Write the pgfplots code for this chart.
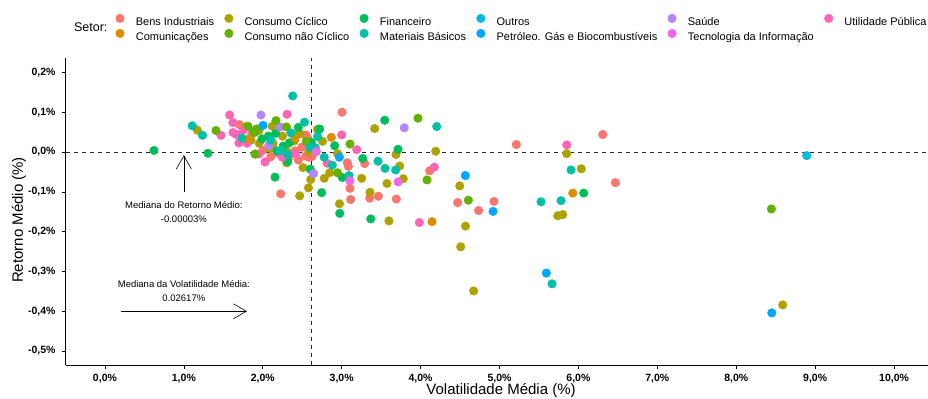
\documentclass[border=0pt]{standalone}
\usepackage{pgfplots}
\pgfplotsset{compat=1.18}
\usepackage{fontspec}
\setmainfont{Liberation Sans}
\usetikzlibrary{arrows.meta}
\definecolor{cBens}{HTML}{F8766D}
\definecolor{cCom}{HTML}{DB8E00}
\definecolor{cCC}{HTML}{AEA200}
\definecolor{cCNC}{HTML}{64B200}
\definecolor{cFin}{HTML}{00BD5C}
\definecolor{cMat}{HTML}{00C1A7}
\definecolor{cOut}{HTML}{00BADE}
\definecolor{cPet}{HTML}{00A6FF}
\definecolor{cSau}{HTML}{B385FF}
\definecolor{cTec}{HTML}{EF67EB}
\definecolor{cUti}{HTML}{FF63B6}
\begin{document}
\begin{tikzpicture}
\begin{axis}[
  name=ax,
  scale only axis,
  width=862.4pt, height=306.5pt,
  xmin=-0.5, xmax=10.43,
  ymin=-0.535, ymax=0.235,
  clip=false,
  axis x line*=bottom, axis y line*=left,
  axis line style={black, line width=0.6pt},
  tick align=outside,
  major tick length=3.5pt,
  tick style={black, line width=0.6pt},
  xtick={0,1,2,3,4,5,6,7,8,9,10},
  xticklabels={{0,0\%},{1,0\%},{2,0\%},{3,0\%},{4,0\%},{5,0\%},{6,0\%},{7,0\%},{8,0\%},{9,0\%},{10,0\%}},
  ytick={-0.5,-0.4,-0.3,-0.2,-0.1,0,0.1,0.2},
  yticklabels={{-0,5\%},{-0,4\%},{-0,3\%},{-0,2\%},{-0,1\%},{0,0\%},{0,1\%},{0,2\%}},
  ticklabel style={font=\bfseries\fontsize{10.5}{12}\selectfont, text=black},
  xticklabel style={yshift=-2pt},
  yticklabel style={xshift=-3pt},
  xlabel={Volatilidade Média (\%)},
  ylabel={Retorno Médio (\%)},
  xlabel style={at={(rel axis cs:0.505,0)}, anchor=center, yshift=-25pt, font=\fontsize{15}{18}\selectfont},
  ylabel style={at={([xshift=-46.5pt]rel axis cs:0,0.473)}, anchor=center, font=\fontsize{15}{18}\selectfont},
  every axis plot/.append style={only marks, mark=*, mark size=4.3pt},
  legend columns=6,
  legend cell align=left,
  legend image code/.code={\draw[#1] plot[only marks] coordinates {(4.5pt,3.9pt)};},
  legend style={draw=none, fill=none, at={(rel axis cs:0,1)}, anchor=north west,
    xshift=50pt, yshift=44.6pt, inner sep=0pt,
    font=\fontsize{11}{13}\selectfont,
    /tikz/every odd column/.style={column sep=9.5pt},
    /tikz/every even column/.style={column sep=8.5pt},
    row sep=0pt},
]
% row 1 of legend
\addplot[color=cBens] coordinates {(1.702,0.069) (1.859,0.046) (3.004,0.100) (2.446,0.045) (2.544,0.043) (2.493,0.012) (2.408,0.003) (2.544,-0.010) (2.586,-0.013) (2.624,-0.011) (2.260,-0.010) (2.336,-0.011) (3.071,-0.027) (3.084,-0.036) (3.291,-0.029) (3.105,-0.091) (3.114,-0.119) (2.227,-0.105) (3.355,-0.116) (3.464,-0.111) (3.692,-0.118) (4.115,-0.047) (4.470,-0.127) (4.734,-0.147) (4.930,-0.124) (5.213,0.019) (6.308,0.044) (6.468,-0.077) (2.002,0.004) (2.564,0.037) (2.100,-0.012) (2.180,-0.002) (2.450,-0.020)};
\addlegendentry{Bens Industriais}
\addplot[color=cCC] coordinates {(1.170,0.055) (2.120,0.065) (1.955,0.022) (2.129,0.021) (1.910,-0.005) (2.303,0.002) (2.303,-0.027) (2.471,0.046) (2.691,0.057) (2.757,0.027) (2.947,-0.004) (3.418,0.059) (2.586,0.001) (2.510,-0.039) (2.607,-0.069) (2.579,-0.090) (2.468,-0.110) (2.779,-0.066) (2.848,-0.052) (2.972,-0.130) (3.253,-0.066) (3.359,-0.101) (3.574,-0.079) (3.599,-0.173) (3.688,-0.006) (3.735,-0.035) (3.781,-0.067) (4.191,0.002) (4.496,-0.085) (4.569,-0.186) (4.508,-0.238) (4.673,-0.349) (5.852,-0.004) (6.037,-0.042) (5.738,-0.160) (5.801,-0.157) (8.589,-0.384) (2.091,0.009) (1.774,0.063) (1.952,0.054) (2.250,0.040) (2.400,0.028) (1.850,0.030)};
\addlegendentry{Consumo Cíclico}
\addplot[color=cFin] coordinates {(0.621,0.004) (1.305,-0.003) (1.762,0.032) (1.888,0.053) (2.070,0.040) (2.336,0.023) (2.180,0.003) (2.316,-0.024) (2.155,-0.063) (2.615,0.024) (2.721,0.058) (2.911,0.016) (2.602,-0.043) (2.746,-0.102) (3.008,-0.064) (2.975,-0.154) (3.266,-0.016) (3.545,0.080) (3.714,0.007) (3.368,-0.168) (6.067,-0.103) (2.163,0.047) (1.990,0.033) (2.450,0.062) (2.260,0.015)};
\addlegendentry{Financeiro}
\addplot[color=cOut] coordinates {(8.893,-0.009)};
\addlegendentry{Outros}
\addplot[color=cSau] coordinates {(1.977,0.093) (2.218,0.063) (2.075,0.016) (2.645,-0.054) (3.793,0.061)};
\addlegendentry{Saúde}
\addplot[color=cUti] coordinates {(1.470,0.042) (1.580,0.093) (1.622,0.074) (1.622,0.049) (1.664,0.044) (1.698,0.023) (1.800,0.022) (2.307,0.095) (1.952,-0.005) (2.028,-0.025) (2.247,-0.013) (2.814,-0.028) (3.000,0.043) (3.190,0.006) (4.174,-0.038) (3.984,-0.177) (5.852,0.018) (1.750,0.055) (2.420,-0.005)};
\addlegendentry{Utilidade Pública}
% row 2 of legend
\addplot[color=cCom] coordinates {(1.819,0.032) (2.868,0.037) (4.144,-0.175) (5.928,-0.103) (2.408,0.035)};
\addlegendentry{Comunicações}
\addplot[color=cCNC] coordinates {(1.407,0.054) (1.812,0.065) (2.167,0.079) (1.923,0.058) (3.105,0.020) (2.947,-0.052) (3.967,0.085) (4.081,-0.070) (4.605,-0.121) (8.445,-0.143) (1.901,-0.005) (1.897,0.049) (2.300,0.063) (2.550,0.027)};
\addlegendentry{Consumo não Cíclico}
\addplot[color=cMat] coordinates {(1.106,0.066) (1.236,0.042) (2.379,0.141) (2.529,0.075) (2.357,0.048) (2.694,0.039) (2.665,0.011) (2.316,-0.006) (2.778,-0.013) (2.881,-0.033) (3.093,-0.059) (3.460,-0.023) (3.549,-0.041) (3.684,-0.045) (4.204,0.064) (5.906,-0.045) (5.526,-0.125) (5.779,-0.122) (5.665,-0.331) (1.736,0.035) (2.218,0.003) (2.100,0.030) (2.600,0.012)};
\addlegendentry{Materiais Básicos}
\addplot[color=cPet] coordinates {(2.003,0.067) (2.970,-0.013) (4.566,-0.059) (4.918,-0.149) (5.593,-0.304) (8.450,-0.404)};
\addlegendentry{Petróleo. Gás e Biocombustíveis}
\addplot[color=cTec] coordinates {(3.103,-0.072) (3.714,-0.075) (2.678,0.001)};
\addlegendentry{Tecnologia da Informação}
% reference lines
\addplot[forget plot, no marks, sharp plot, black!85, line width=0.7pt, dash pattern=on 4pt off 4pt] coordinates {(-0.5,-0.00003) (10.43,-0.00003)};
\addplot[forget plot, no marks, sharp plot, black!85, line width=0.7pt, dash pattern=on 4pt off 4pt] coordinates {(2.617,-0.535) (2.617,0.235)};
% arrows
\addplot[forget plot, no marks, sharp plot, black, line width=0.6pt, -{Straight Barb[length=13pt,width=15pt]}] coordinates {(1.0,-0.1) (1.0,-0.008)};
\addplot[forget plot, no marks, sharp plot, black, line width=0.6pt, -{Straight Barb[length=13pt,width=15pt]}] coordinates {(0.2,-0.4) (1.8,-0.4)};
\node[align=center, font=\fontsize{9.5}{14}\selectfont] at (axis cs:1.0,-0.15) {Mediana do Retorno Médio:\\-0.00003\%};
\node[align=center, font=\fontsize{9.5}{14}\selectfont] at (axis cs:1.0,-0.35) {Mediana da Volatilidade Média:\\0.02617\%};
\node[anchor=west, xshift=5pt, yshift=30.8pt, font=\fontsize{12.5}{15}\selectfont] at (rel axis cs:0,1) {Setor:};
\end{axis}
\pgfresetboundingbox
\path[use as bounding box] ([xshift=-65.5pt,yshift=-33pt]ax.south west) rectangle ([yshift=58.5pt]ax.north east);
\end{tikzpicture}
\end{document}
